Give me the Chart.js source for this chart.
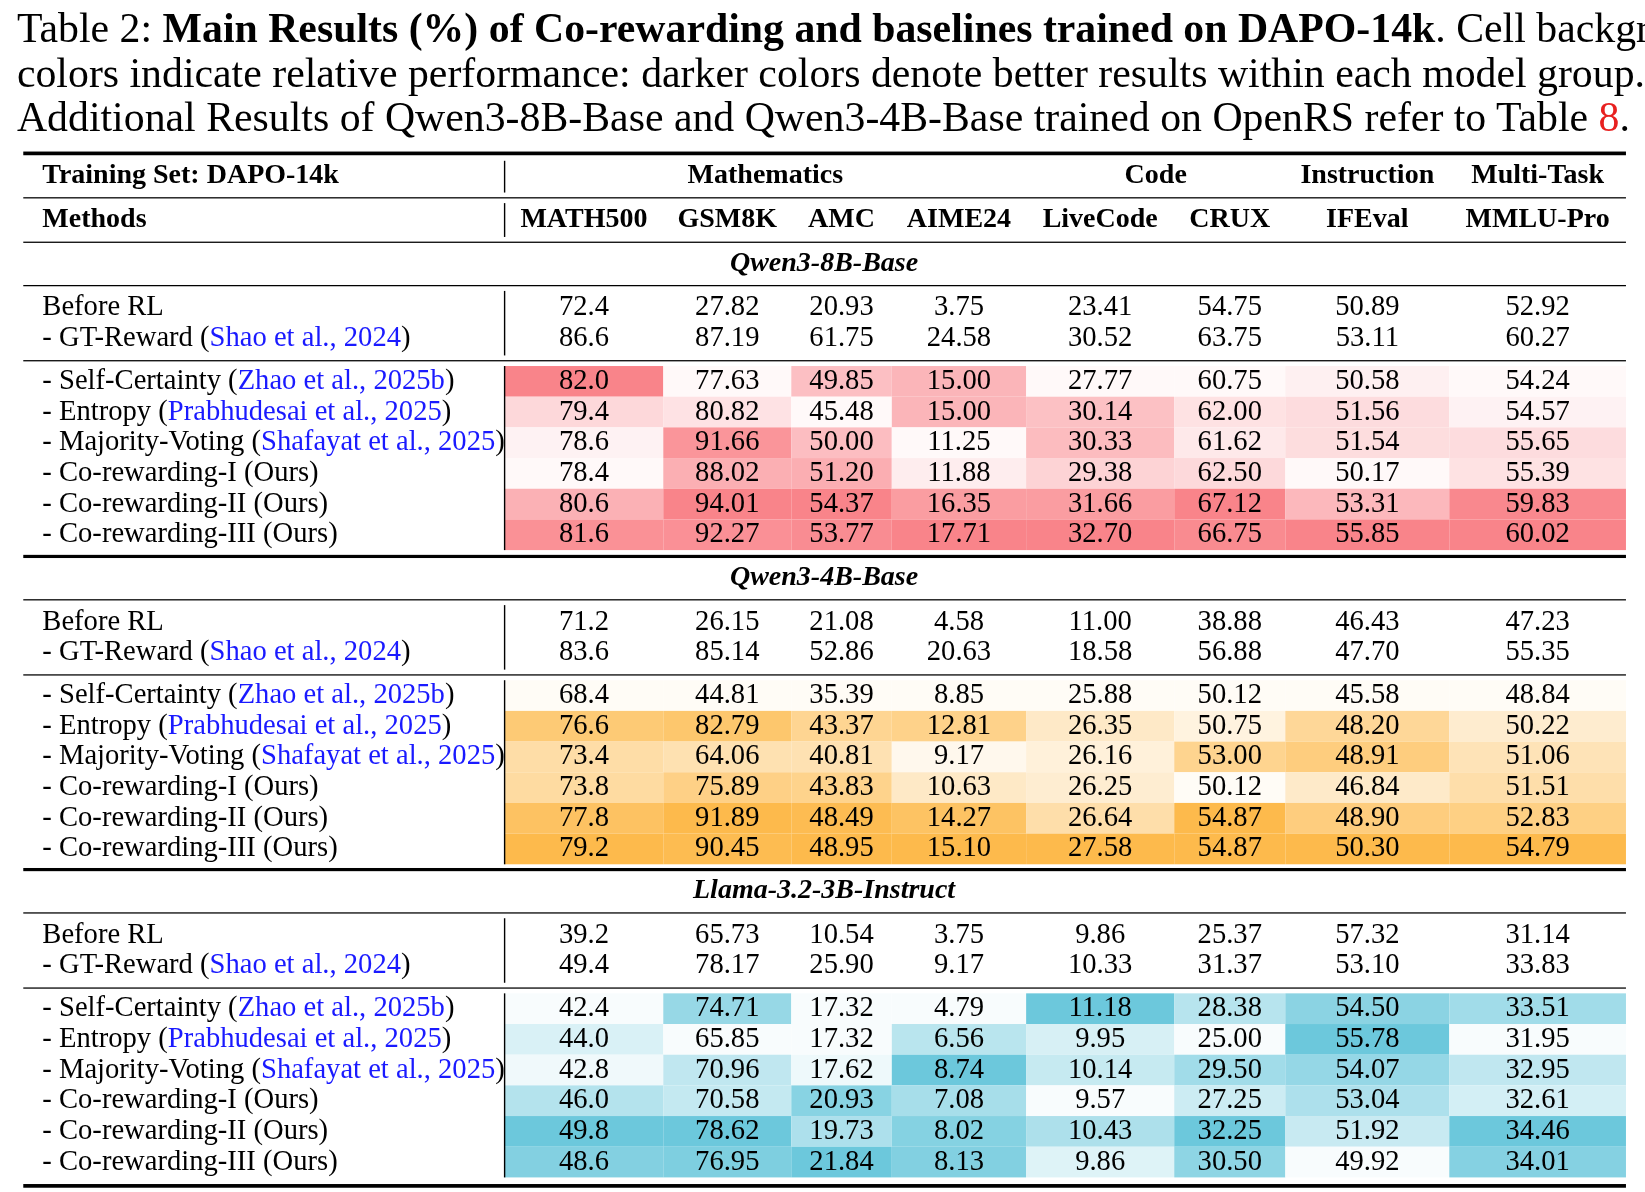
<!DOCTYPE html>
<html lang="en">
<head>
<meta charset="UTF-8" />
<title>Co-rewarding Table 2</title>
<style>
  body { margin: 0; background: #fff; font-family: "Liberation Serif", serif; overflow: hidden; }
  #wrap { position: absolute; left: 0; top: 0; width: 1645px; height: 1192px; }
  .caption { position: absolute; left: 0; top: 0; transform: scale(1.058); transform-origin: 0 0; z-index: 2; }
  .caption .inner { position: absolute; left: 16px; top: 6px; width: 1521px; font-size: 39.5px; line-height: 42px; color: #000; }
  .caption .inner div { text-align: justify; text-align-last: justify; white-space: nowrap; }
  .caption .inner div.last { text-align-last: left; }
  .ref { color: #e8201f; }
</style>
</head>
<body>
<div id="wrap"><canvas id="tableChart" width="1645" height="1192"></canvas></div>
<div class="caption"><div class="inner">
  <div>Table 2: <b>Main Results (%) of Co-rewarding and baselines trained on DAPO-14k</b>. Cell background</div>
  <div>colors indicate relative performance: darker colors denote better results within each model group.</div>
  <div class="last">Additional Results of Qwen3-8B-Base and Qwen3-4B-Base trained on OpenRS refer to Table <span class="ref">8</span>.</div>
</div></div>

<script src="https://cdn.jsdelivr.net/npm/chart.js"></script>
<script>
const columns = ["MATH500", "GSM8K", "AMC", "AIME24", "LiveCode", "CRUX", "IFEval", "MMLU-Pro"];
const domains = ["Mathematics", "Code", "Instruction", "Multi-Task"];
const models = ["Qwen3-8B-Base", "Qwen3-4B-Base", "Llama-3.2-3B-Instruct"];
const baseRows = [
  [["Before RL", ""]],
  [["- GT-Reward (", ""], ["Shao et al., 2024", "link"], [")", ""]]
];
const methodRows = [
  [["- Self-Certainty (", ""], ["Zhao et al., 2025b", "link"], [")", ""]],
  [["- Entropy (", ""], ["Prabhudesai et al., 2025", "link"], [")", ""]],
  [["- Majority-Voting (", ""], ["Shafayat et al., 2025", "link"], [")", ""]],
  [["- Co-rewarding-I (Ours)", ""]],
  [["- Co-rewarding-II (Ours)", ""]],
  [["- Co-rewarding-III (Ours)", ""]]
];
const qwen8Base = [
  ["72.4", "27.82", "20.93", "3.75", "23.41", "54.75", "50.89", "52.92"],
  ["86.6", "87.19", "61.75", "24.58", "30.52", "63.75", "53.11", "60.27"]
];
const qwen8Methods = [
  ["82.0", "77.63", "49.85", "15.00", "27.77", "60.75", "50.58", "54.24"],
  ["79.4", "80.82", "45.48", "15.00", "30.14", "62.00", "51.56", "54.57"],
  ["78.6", "91.66", "50.00", "11.25", "30.33", "61.62", "51.54", "55.65"],
  ["78.4", "88.02", "51.20", "11.88", "29.38", "62.50", "50.17", "55.39"],
  ["80.6", "94.01", "54.37", "16.35", "31.66", "67.12", "53.31", "59.83"],
  ["81.6", "92.27", "53.77", "17.71", "32.70", "66.75", "55.85", "60.02"]
];
const qwen4Base = [
  ["71.2", "26.15", "21.08", "4.58", "11.00", "38.88", "46.43", "47.23"],
  ["83.6", "85.14", "52.86", "20.63", "18.58", "56.88", "47.70", "55.35"]
];
const qwen4Methods = [
  ["68.4", "44.81", "35.39", "8.85", "25.88", "50.12", "45.58", "48.84"],
  ["76.6", "82.79", "43.37", "12.81", "26.35", "50.75", "48.20", "50.22"],
  ["73.4", "64.06", "40.81", "9.17", "26.16", "53.00", "48.91", "51.06"],
  ["73.8", "75.89", "43.83", "10.63", "26.25", "50.12", "46.84", "51.51"],
  ["77.8", "91.89", "48.49", "14.27", "26.64", "54.87", "48.90", "52.83"],
  ["79.2", "90.45", "48.95", "15.10", "27.58", "54.87", "50.30", "54.79"]
];
const llamaBase = [
  ["39.2", "65.73", "10.54", "3.75", "9.86", "25.37", "57.32", "31.14"],
  ["49.4", "78.17", "25.90", "9.17", "10.33", "31.37", "53.10", "33.83"]
];
const llamaMethods = [
  ["42.4", "74.71", "17.32", "4.79", "11.18", "28.38", "54.50", "33.51"],
  ["44.0", "65.85", "17.32", "6.56", "9.95", "25.00", "55.78", "31.95"],
  ["42.8", "70.96", "17.62", "8.74", "10.14", "29.50", "54.07", "32.95"],
  ["46.0", "70.58", "20.93", "7.08", "9.57", "27.25", "53.04", "32.61"],
  ["49.8", "78.62", "19.73", "8.02", "10.43", "32.25", "51.92", "34.46"],
  ["48.6", "76.95", "21.84", "8.13", "9.86", "30.50", "49.92", "34.01"]
];

// layout in table units (scaled onto the page by the x/y scales)
const S = 1645 / 1555;
const colEdges = [477, 627, 748, 843, 970, 1110, 1215, 1370, 1537];
const domainSpans = [[477, 970], [970, 1215], [1215, 1370], [1370, 1537]];
const tableLeft = 22, tableRight = 1537;
const groupTops = [229, 526, 822];
const groupColors = [[249, 132, 138], [253, 186, 76], [108, 200, 220]];
const groups = [
  { name: models[0], base: qwen8Base, methods: qwen8Methods },
  { name: models[1], base: qwen4Base, methods: qwen4Methods },
  { name: models[2], base: llamaBase, methods: llamaMethods }
];

function shade(rgb, t) {
  const a = 0.05 + 0.95 * t;
  return "rgb(" + rgb.map(c => Math.round(255 + (c - 255) * a)).join(",") + ")";
}

const tablePlugin = {
  id: "tablePlugin",
  afterDraw(chart) {
    const ctx = chart.ctx, xs = chart.scales.x, ys = chart.scales.y;
    const X = v => xs.getPixelForValue(v), Y = v => ys.getPixelForValue(v);
    const serif = "'Liberation Serif', serif";
    const fs = n => Math.round(n * S * 10) / 10 + "px " + serif;
    ctx.save();
    ctx.textBaseline = "middle";
    const hline = (y, w) => {
      ctx.fillStyle = "#000";
      ctx.fillRect(X(tableLeft), Y(y) - w * S / 2, X(tableRight) - X(tableLeft), w * S);
    };
    const vline = (y0, y1) => {
      ctx.fillStyle = "#000";
      ctx.fillRect(X(colEdges[0]) - 0.7, Y(y0), 1.4, Y(y1) - Y(y0));
    };
    const centers = columns.map((c, i) => (colEdges[i] + colEdges[i + 1]) / 2);
    const label = (parts, y) => {
      ctx.font = fs(27);
      ctx.textAlign = "left";
      let x = X(40);
      parts.forEach(([t, k]) => {
        ctx.fillStyle = k === "link" ? "#1a1aff" : "#000";
        ctx.fillText(t, x, Y(y));
        x += ctx.measureText(t).width;
      });
    };
    const values = (row, y) => {
      ctx.font = fs(27);
      ctx.textAlign = "center";
      ctx.fillStyle = "#000";
      row.forEach((v, i) => ctx.fillText(v, X(centers[i]), Y(y)));
    };

    // header
    hline(145, 3.5);
    ctx.font = "bold " + fs(26.5);
    ctx.fillStyle = "#000";
    ctx.textAlign = "left";
    ctx.fillText("Training Set: DAPO-14k", X(40), Y(166));
    ctx.fillText("Methods", X(40), Y(208));
    ctx.textAlign = "center";
    domains.forEach((d, i) => ctx.fillText(d, X((domainSpans[i][0] + domainSpans[i][1]) / 2), Y(166)));
    columns.forEach((c, i) => ctx.fillText(c, X(centers[i]), Y(208)));
    hline(187, 1.2);
    vline(152, 182); vline(192, 224);

    groups.forEach((g, gi) => {
      const top = groupTops[gi];
      hline(top, gi === 0 ? 1.2 : 3);
      ctx.font = "italic bold " + fs(26.5);
      ctx.fillStyle = "#000";
      ctx.textAlign = "center";
      ctx.fillText(g.name, X(779), Y(top + 20));
      hline(top + 41, 1.2);
      g.base.forEach((r, ri) => {
        const y = top + 62 + ri * 29;
        label(baseRows[ri], y);
        values(r, y);
      });
      vline(top + 46, top + 107);
      hline(top + 112, 1.2);
      const y0 = top + 117;
      columns.forEach((c, ci) => {
        const nums = g.methods.map(r => parseFloat(r[ci]));
        const mn = Math.min(...nums), mx = Math.max(...nums);
        nums.forEach((v, ri) => {
          const t = mx > mn ? (v - mn) / (mx - mn) : 0;
          ctx.fillStyle = shade(groupColors[gi], t);
          ctx.fillRect(X(colEdges[ci]), Y(y0 + ri * 29), X(colEdges[ci + 1]) - X(colEdges[ci]), Y(y0 + (ri + 1) * 29) - Y(y0 + ri * 29));
        });
      });
      g.methods.forEach((r, ri) => {
        const y = y0 + 14.5 + ri * 29;
        label(methodRows[ri], y);
        values(r, y);
      });
      vline(y0, y0 + 174);
    });
    hline(1121, 3.5);
    ctx.restore();
  }
};

new Chart(document.getElementById("tableChart"), {
  type: "scatter",
  data: { datasets: [{ data: [] }] },
  options: {
    responsive: false,
    animation: false,
    layout: { padding: 0 },
    plugins: { legend: { display: false }, tooltip: { enabled: false } },
    scales: {
      x: { type: "linear", min: 0, max: 1555, display: false },
      y: { type: "linear", min: 0, max: 1192 / S, reverse: true, display: false }
    }
  },
  plugins: [tablePlugin]
});
</script>
</body>
</html>
